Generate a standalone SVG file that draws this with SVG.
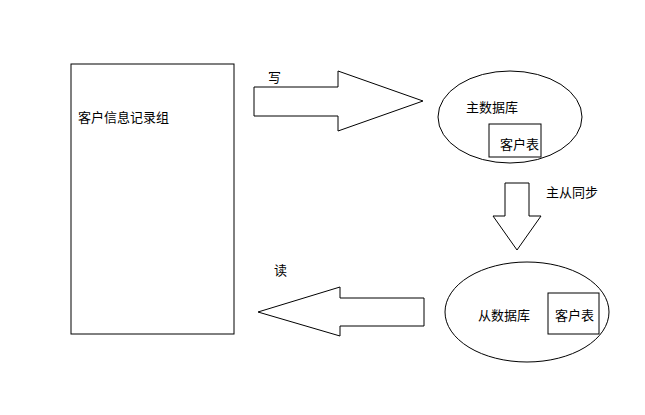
<svg xmlns="http://www.w3.org/2000/svg" width="645" height="415" viewBox="0 0 645 415">
<style>
.s{fill:#fff;stroke:#000;stroke-width:1}
text{font-family:"Noto Sans CJK SC",sans-serif;font-size:13px;fill:#000}
</style>
<rect width="645" height="415" fill="#fff"/>
<g id="client"><rect class="s" x="71" y="64" width="163" height="270"/><text x="78" y="122">客户信息记录组</text></g>
<g id="master"><ellipse class="s" cx="510" cy="117" rx="72" ry="46"/><text x="466" y="112">主数据库</text>
<rect class="s" x="489" y="124" width="52" height="33"/><text x="500" y="149">客户表</text></g>
<g id="slave"><ellipse class="s" cx="527" cy="312" rx="82" ry="50"/><text x="478" y="320">从数据库</text>
<rect class="s" x="548" y="293" width="51" height="41"/><text x="555" y="320">客户表</text></g>
<g id="connectors">
<polygon class="s" points="254,87 338,87 338,71 423,101 338,131 338,116 254,116"/>
<text x="268" y="82">写</text>
<polygon class="s" points="505,183 529,183 529,216 541,216 517,250 493,216 505,216"/>
<text x="546" y="197">主从同步</text>
<polygon class="s" points="424,298 340,298 340,287 258,312 340,336 340,326 424,326"/>
<text x="274" y="275">读</text>
</g>
</svg>
